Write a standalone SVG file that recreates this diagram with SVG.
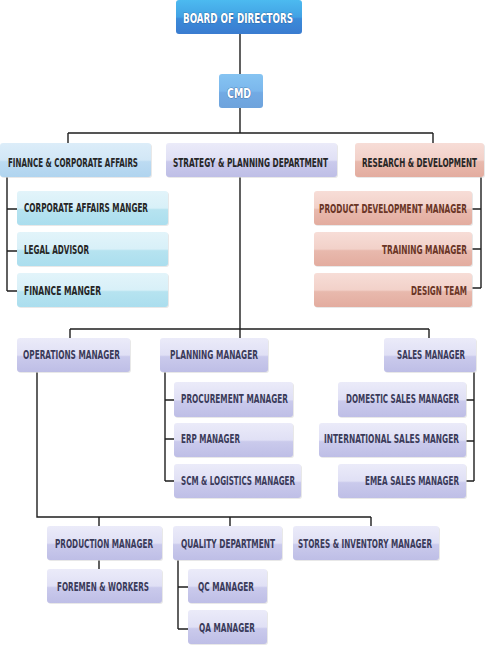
<svg xmlns="http://www.w3.org/2000/svg" width="485" height="645" viewBox="0 0 485 645">
<defs>
<linearGradient id="gBoard" x1="0" y1="0" x2="0" y2="1">
<stop offset="0" stop-color="#4cbaf0"/><stop offset="0.5" stop-color="#42a2e4"/><stop offset="0.55" stop-color="#3b8bd9"/><stop offset="1" stop-color="#3a7cd0"/>
</linearGradient>
<linearGradient id="gCmd" x1="0" y1="0" x2="0" y2="1">
<stop offset="0" stop-color="#86c4f2"/><stop offset="0.5" stop-color="#7bb7ec"/><stop offset="0.55" stop-color="#72aae4"/><stop offset="1" stop-color="#6ea3dc"/>
</linearGradient>
<linearGradient id="gFin" x1="0" y1="0" x2="0" y2="1">
<stop offset="0" stop-color="#dcedf9"/><stop offset="0.5" stop-color="#d2e7f6"/><stop offset="0.55" stop-color="#bcdbf2"/><stop offset="1" stop-color="#b0d4ef"/>
</linearGradient>
<linearGradient id="gCyan" x1="0" y1="0" x2="0" y2="1">
<stop offset="0" stop-color="#e2f4fa"/><stop offset="0.5" stop-color="#d8f0f8"/><stop offset="0.55" stop-color="#b6e3f0"/><stop offset="1" stop-color="#abdeee"/>
</linearGradient>
<linearGradient id="gPur" x1="0" y1="0" x2="0" y2="1">
<stop offset="0" stop-color="#ebebf9"/><stop offset="0.5" stop-color="#e0e0f5"/><stop offset="0.55" stop-color="#cacaec"/><stop offset="1" stop-color="#bebee6"/>
</linearGradient>
<linearGradient id="gRed" x1="0" y1="0" x2="0" y2="1">
<stop offset="0" stop-color="#f7ddd7"/><stop offset="0.5" stop-color="#f2d1c9"/><stop offset="0.55" stop-color="#e8b9ad"/><stop offset="1" stop-color="#e3ac9f"/>
</linearGradient>
</defs>
<style>
rect.sh{fill:#d8d8d8;opacity:0.6}
rect.board{fill:url(#gBoard)}
rect.cmd{fill:url(#gCmd)}
rect.fin{fill:url(#gFin)}
rect.cyan{fill:url(#gCyan)}
rect.pur{fill:url(#gPur)}
rect.red{fill:url(#gRed)}
text{font-family:"Liberation Sans Narrow","DejaVu Sans Condensed","Liberation Sans",sans-serif;font-weight:bold;font-size:12px;font-stretch:condensed}
text.w{fill:#ffffff;font-size:14px;stroke:#1d4f87;stroke-width:0.7;paint-order:stroke}
text.d{fill:#262626}
text.p{fill:#3b3b5a}
text.b{fill:#6a3526}
#connectors path{fill:none;stroke:#1e1e1e;stroke-width:1.4}
</style>
<g id="connectors">
<path d="M240 34V74M240 108V133M68 133H433M68 133V143M433 133V143"/>
<path d="M240 177V338M70 329H429M70 329V338M429 329V338"/>
<path d="M7 177V291M7 209H17M7 251H17M7 291H17"/>
<path d="M481 177V288M481 209H472M481 249H472M481 288H472"/>
<path d="M165 372V481M165 400H174M165 439H174M165 481H174"/>
<path d="M474 372V481M474 400H466M474 441H466M474 481H466"/>
<path d="M37 372V517H371M99 517V526M230 517V526M371 517V526M99 560V569"/>
<path d="M178 560V629M178 587H188M178 629H188"/>
</g>
<g id="board"><rect class="board" x="176" y="0" width="126" height="34" rx="3"/><text class="w" x="183" y="23" textLength="110" lengthAdjust="spacingAndGlyphs">BOARD OF DIRECTORS</text></g>
<g id="cmd"><rect class="cmd" x="219" y="74" width="44" height="34" rx="3"/><text class="w" x="227" y="98" textLength="24" lengthAdjust="spacingAndGlyphs">CMD</text></g>
<g id="finance"><rect class="sh" x="1" y="144" width="151" height="34" rx="3"/><rect class="fin" x="0" y="143" width="151" height="34" rx="3"/><text class="d" x="8" y="167" textLength="130" lengthAdjust="spacingAndGlyphs">FINANCE &amp; CORPORATE AFFAIRS</text></g>
<g id="strategy"><rect class="sh" x="167" y="144" width="171" height="34" rx="3"/><rect class="pur" x="166" y="143" width="171" height="34" rx="3"/><text class="d" x="173" y="167" textLength="155" lengthAdjust="spacingAndGlyphs">STRATEGY &amp; PLANNING DEPARTMENT</text></g>
<g id="rnd"><rect class="sh" x="356" y="144" width="129" height="34" rx="3"/><rect class="red" x="355" y="143" width="129" height="34" rx="3"/><text class="d" x="362" y="167" textLength="115" lengthAdjust="spacingAndGlyphs">RESEARCH &amp; DEVELOPMENT</text></g>
<g id="corp"><rect class="sh" x="18" y="192" width="151" height="34" rx="3"/><rect class="cyan" x="17" y="191" width="151" height="34" rx="3"/><text class="d" x="24" y="212" textLength="124" lengthAdjust="spacingAndGlyphs">CORPORATE AFFAIRS MANGER</text></g>
<g id="legal"><rect class="sh" x="18" y="233" width="151" height="34" rx="3"/><rect class="cyan" x="17" y="232" width="151" height="34" rx="3"/><text class="d" x="24" y="254" textLength="65" lengthAdjust="spacingAndGlyphs">LEGAL ADVISOR</text></g>
<g id="finmgr"><rect class="sh" x="18" y="274" width="151" height="34" rx="3"/><rect class="cyan" x="17" y="273" width="151" height="34" rx="3"/><text class="d" x="24" y="295" textLength="77" lengthAdjust="spacingAndGlyphs">FINANCE  MANGER</text></g>
<g id="proddev"><rect class="sh" x="315" y="192" width="158" height="34" rx="3"/><rect class="red" x="314" y="191" width="158" height="34" rx="3"/><text class="b" x="319" y="213" textLength="148" lengthAdjust="spacingAndGlyphs">PRODUCT DEVELOPMENT MANAGER</text></g>
<g id="training"><rect class="sh" x="315" y="233" width="158" height="34" rx="3"/><rect class="red" x="314" y="232" width="158" height="34" rx="3"/><text class="b" x="382" y="254" textLength="85" lengthAdjust="spacingAndGlyphs">TRAINING MANAGER</text></g>
<g id="design"><rect class="sh" x="315" y="274" width="158" height="34" rx="3"/><rect class="red" x="314" y="273" width="158" height="34" rx="3"/><text class="b" x="411" y="295" textLength="56" lengthAdjust="spacingAndGlyphs">DESIGN TEAM</text></g>
<g id="operations"><rect class="sh" x="18" y="339" width="113" height="34" rx="3"/><rect class="pur" x="17" y="338" width="113" height="34" rx="3"/><text class="p" x="23" y="359" textLength="97" lengthAdjust="spacingAndGlyphs">OPERATIONS MANAGER</text></g>
<g id="planning"><rect class="sh" x="161" y="339" width="108" height="34" rx="3"/><rect class="pur" x="160" y="338" width="108" height="34" rx="3"/><text class="p" x="170" y="359" textLength="88" lengthAdjust="spacingAndGlyphs">PLANNING MANAGER</text></g>
<g id="sales"><rect class="sh" x="385" y="339" width="92" height="34" rx="3"/><rect class="pur" x="384" y="338" width="92" height="34" rx="3"/><text class="p" x="397" y="359" textLength="68" lengthAdjust="spacingAndGlyphs">SALES MANAGER</text></g>
<g id="procurement"><rect class="sh" x="175" y="383" width="119" height="35" rx="3"/><rect class="pur" x="174" y="382" width="119" height="35" rx="3"/><text class="p" x="181" y="403" textLength="107" lengthAdjust="spacingAndGlyphs">PROCUREMENT MANAGER</text></g>
<g id="erp"><rect class="sh" x="175" y="424" width="119" height="34" rx="3"/><rect class="pur" x="174" y="423" width="119" height="34" rx="3"/><text class="p" x="181" y="443" textLength="59" lengthAdjust="spacingAndGlyphs">ERP MANAGER</text></g>
<g id="scm"><rect class="sh" x="175" y="465" width="127" height="34" rx="3"/><rect class="pur" x="174" y="464" width="127" height="34" rx="3"/><text class="p" x="181" y="485" textLength="114" lengthAdjust="spacingAndGlyphs">SCM &amp; LOGISTICS MANAGER</text></g>
<g id="domestic"><rect class="sh" x="339" y="383" width="128" height="35" rx="3"/><rect class="pur" x="338" y="382" width="128" height="35" rx="3"/><text class="p" x="346" y="403" textLength="113" lengthAdjust="spacingAndGlyphs">DOMESTIC SALES MANAGER</text></g>
<g id="international"><rect class="sh" x="320" y="424" width="147" height="34" rx="3"/><rect class="pur" x="319" y="423" width="147" height="34" rx="3"/><text class="p" x="324" y="443" textLength="135" lengthAdjust="spacingAndGlyphs">INTERNATIONAL SALES  MANGER</text></g>
<g id="emea"><rect class="sh" x="339" y="465" width="128" height="34" rx="3"/><rect class="pur" x="338" y="464" width="128" height="34" rx="3"/><text class="p" x="365" y="485" textLength="94" lengthAdjust="spacingAndGlyphs">EMEA SALES MANAGER</text></g>
<g id="production"><rect class="sh" x="48" y="527" width="115" height="34" rx="3"/><rect class="pur" x="47" y="526" width="115" height="34" rx="3"/><text class="p" x="55" y="548" textLength="98" lengthAdjust="spacingAndGlyphs">PRODUCTION MANAGER</text></g>
<g id="quality"><rect class="sh" x="174" y="527" width="109" height="34" rx="3"/><rect class="pur" x="173" y="526" width="109" height="34" rx="3"/><text class="p" x="181" y="548" textLength="94" lengthAdjust="spacingAndGlyphs">QUALITY DEPARTMENT</text></g>
<g id="stores"><rect class="sh" x="294" y="527" width="146" height="34" rx="3"/><rect class="pur" x="293" y="526" width="146" height="34" rx="3"/><text class="p" x="298" y="548" textLength="134" lengthAdjust="spacingAndGlyphs">STORES &amp; INVENTORY MANAGER</text></g>
<g id="foremen"><rect class="sh" x="48" y="570" width="115" height="34" rx="3"/><rect class="pur" x="47" y="569" width="115" height="34" rx="3"/><text class="p" x="57" y="591" textLength="92" lengthAdjust="spacingAndGlyphs">FOREMEN &amp; WORKERS</text></g>
<g id="qc"><rect class="sh" x="189" y="570" width="79" height="34" rx="3"/><rect class="pur" x="188" y="569" width="79" height="34" rx="3"/><text class="p" x="198" y="591" textLength="56" lengthAdjust="spacingAndGlyphs">QC MANAGER</text></g>
<g id="qa"><rect class="sh" x="189" y="611" width="79" height="34" rx="3"/><rect class="pur" x="188" y="610" width="79" height="34" rx="3"/><text class="p" x="199" y="632" textLength="56" lengthAdjust="spacingAndGlyphs">QA MANAGER</text></g>
</svg>
